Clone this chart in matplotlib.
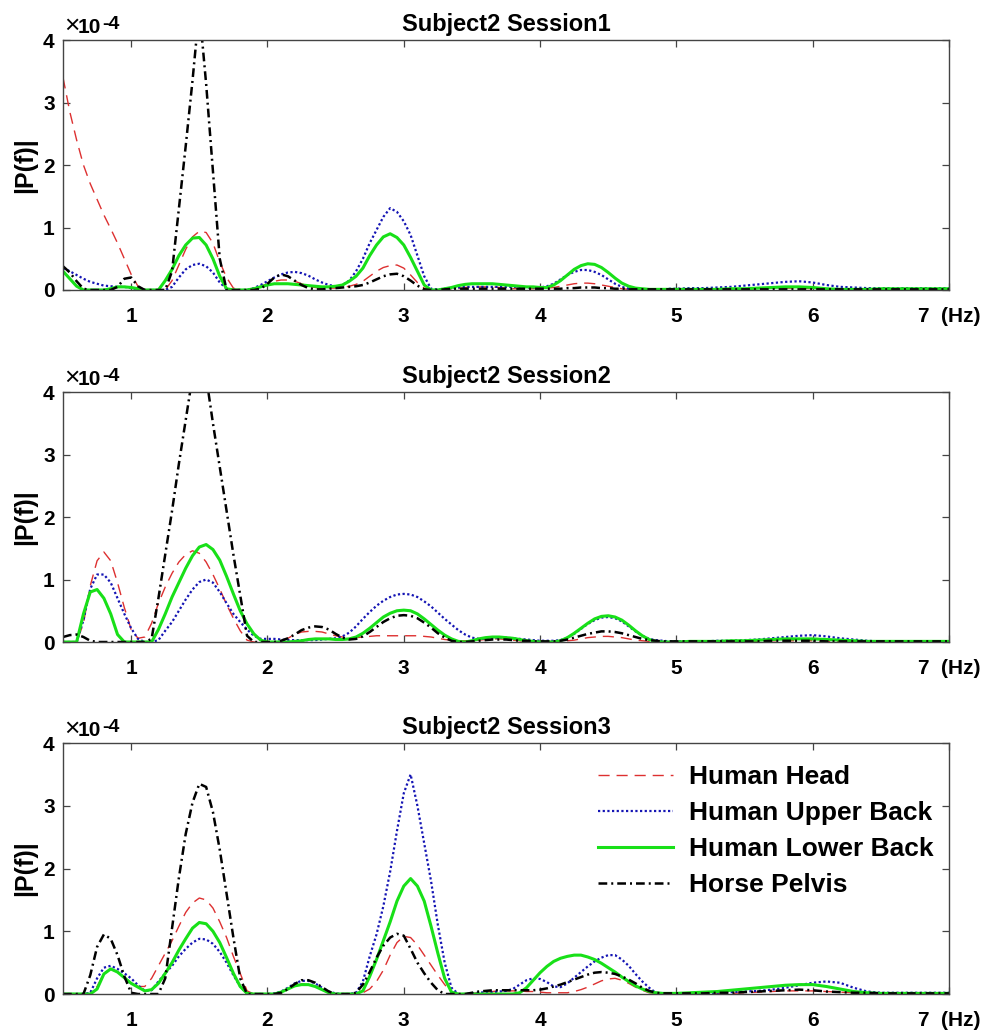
import numpy as np
import matplotlib
matplotlib.use("Agg")
import matplotlib.pyplot as plt

plt.rcParams['font.family'] = ['Liberation Sans', 'DejaVu Sans']
plt.rcParams['font.weight'] = 'bold'

# frequency grid (Hz): 0.05 Hz steps to 5 Hz, then 0.1 Hz steps to 7 Hz
freq = np.round(np.concatenate([np.arange(0.50, 5.001, 0.05), np.arange(5.1, 7.001, 0.1)]), 2)

titles = ["Subject2 Session1", "Subject2 Session2", "Subject2 Session3"]
series_names = ["Human Head", "Human Upper Back", "Human Lower Back", "Horse Pelvis"]
xtick_vals = [1, 2, 3, 4, 5, 6, 7]
xtick_labels = ["1", "2", "3", "4", "5", "6", "7  (Hz)"]
ytick_vals = [0, 1, 2, 3, 4]

# values in units of 1e-4
s1_head = [3.40, 2.85, 2.40, 2.00, 1.70, 1.45, 1.20, 0.98, 0.75, 0.50,
           0.25, 0.06, 0.00, 0.00, 0.00, 0.00, 0.15, 0.40, 0.65, 0.85,
           0.94, 0.92, 0.75, 0.45, 0.20, 0.03, 0.00, 0.00, 0.02, 0.06,
           0.10, 0.14, 0.16, 0.16, 0.14, 0.10, 0.06, 0.04, 0.03, 0.03,
           0.03, 0.04, 0.06, 0.09, 0.14, 0.22, 0.30, 0.36, 0.39, 0.40,
           0.35, 0.24, 0.12, 0.03, 0.00, 0.00, 0.00, 0.00, 0.02, 0.04,
           0.05, 0.05, 0.05, 0.05, 0.04, 0.03, 0.02, 0.02, 0.02, 0.02,
           0.02, 0.03, 0.04, 0.06, 0.08, 0.10, 0.11, 0.11, 0.10, 0.08,
           0.06, 0.04, 0.02, 0.01, 0.01, 0.00, 0.00, 0.00, 0.00, 0.00,
           0.00,
           0.00, 0.01, 0.01, 0.01, 0.02, 0.02, 0.03, 0.03, 0.03, 0.02,
           0.02, 0.01, 0.01, 0.01, 0.01, 0.01, 0.01, 0.01, 0.01, 0.01]
s1_upper = [0.35, 0.30, 0.24, 0.18, 0.13, 0.10, 0.07, 0.06, 0.05, 0.05,
            0.03, 0.01, 0.00, 0.00, 0.00, 0.00, 0.05, 0.20, 0.33, 0.40,
            0.42, 0.38, 0.28, 0.12, 0.02, 0.00, 0.00, 0.00, 0.03, 0.08,
            0.14, 0.20, 0.25, 0.28, 0.29, 0.27, 0.23, 0.17, 0.12, 0.08,
            0.06, 0.08, 0.15, 0.30, 0.50, 0.75, 0.96, 1.17, 1.31, 1.25,
            1.10, 0.88, 0.55, 0.22, 0.02, 0.01, 0.02, 0.03, 0.04, 0.05,
            0.05, 0.05, 0.05, 0.05, 0.05, 0.05, 0.05, 0.05, 0.04, 0.04,
            0.04, 0.06, 0.10, 0.17, 0.24, 0.29, 0.32, 0.32, 0.29, 0.24,
            0.17, 0.10, 0.05, 0.02, 0.01, 0.01, 0.01, 0.01, 0.01, 0.02,
            0.02,
            0.03, 0.03, 0.04, 0.05, 0.07, 0.09, 0.11, 0.13, 0.14, 0.12,
            0.08, 0.05, 0.04, 0.03, 0.03, 0.03, 0.03, 0.03, 0.03, 0.03]
s1_lower = [0.30, 0.18, 0.06, 0.00, 0.00, 0.00, 0.00, 0.02, 0.05, 0.05,
            0.04, 0.02, 0.00, 0.00, 0.00, 0.15, 0.33, 0.55, 0.72, 0.83,
            0.84, 0.72, 0.50, 0.22, 0.02, 0.00, 0.00, 0.00, 0.02, 0.05,
            0.08, 0.10, 0.10, 0.10, 0.09, 0.08, 0.07, 0.06, 0.05, 0.05,
            0.06, 0.08, 0.14, 0.22, 0.35, 0.55, 0.72, 0.85, 0.90, 0.84,
            0.72, 0.52, 0.30, 0.08, 0.00, 0.00, 0.02, 0.04, 0.07, 0.09,
            0.10, 0.10, 0.10, 0.10, 0.09, 0.08, 0.07, 0.06, 0.05, 0.05,
            0.04, 0.04, 0.08, 0.15, 0.24, 0.33, 0.39, 0.42, 0.41, 0.36,
            0.28, 0.19, 0.11, 0.06, 0.03, 0.02, 0.01, 0.01, 0.01, 0.01,
            0.01,
            0.01, 0.01, 0.01, 0.02, 0.02, 0.03, 0.04, 0.05, 0.05, 0.04,
            0.02, 0.01, 0.01, 0.01, 0.02, 0.02, 0.02, 0.02, 0.02, 0.02]
s1_pelvis = [0.38, 0.28, 0.14, 0.02, 0.00, 0.00, 0.00, 0.00, 0.05, 0.18,
             0.20, 0.06, 0.00, 0.00, 0.00, 0.00, 0.30, 1.30, 2.30, 3.35,
             4.50, 3.30, 1.90, 0.50, 0.00, 0.00, 0.00, 0.00, 0.00, 0.02,
             0.10, 0.20, 0.25, 0.22, 0.15, 0.08, 0.03, 0.01, 0.01, 0.02,
             0.03, 0.04, 0.05, 0.06, 0.08, 0.12, 0.17, 0.22, 0.25, 0.26,
             0.22, 0.15, 0.07, 0.01, 0.00, 0.00, 0.01, 0.02, 0.02, 0.02,
             0.02, 0.02, 0.02, 0.02, 0.02, 0.02, 0.02, 0.02, 0.02, 0.02,
             0.02, 0.02, 0.02, 0.02, 0.03, 0.03, 0.04, 0.04, 0.04, 0.03,
             0.03, 0.02, 0.02, 0.01, 0.01, 0.01, 0.01, 0.01, 0.01, 0.01,
             0.01,
             0.01, 0.01, 0.01, 0.01, 0.01, 0.01, 0.01, 0.01, 0.01, 0.01,
             0.01, 0.01, 0.01, 0.01, 0.01, 0.01, 0.01, 0.01, 0.01, 0.01]

s2_head = [0.00, 0.00, 0.00, 0.30, 0.90, 1.30, 1.44, 1.30, 0.95, 0.55,
           0.20, 0.06, 0.08, 0.30, 0.62, 0.88, 1.10, 1.28, 1.40, 1.46,
           1.42, 1.28, 1.08, 0.85, 0.60, 0.38, 0.18, 0.03, 0.00, 0.00,
           0.00, 0.00, 0.02, 0.06, 0.12, 0.16, 0.17, 0.17, 0.16, 0.13,
           0.10, 0.08, 0.07, 0.07, 0.08, 0.09, 0.10, 0.10, 0.10, 0.10,
           0.10, 0.10, 0.10, 0.09, 0.08, 0.06, 0.04, 0.03, 0.02, 0.02,
           0.02, 0.03, 0.04, 0.05, 0.05, 0.04, 0.03, 0.02, 0.01, 0.01,
           0.01, 0.01, 0.01, 0.01, 0.02, 0.03, 0.05, 0.07, 0.08, 0.09,
           0.09, 0.08, 0.07, 0.05, 0.03, 0.02, 0.01, 0.00, 0.00, 0.00,
           0.00,
           0.00, 0.00, 0.01, 0.01, 0.01, 0.01, 0.02, 0.02, 0.02, 0.02,
           0.01, 0.01, 0.01, 0.01, 0.01, 0.01, 0.01, 0.01, 0.01, 0.01]
s2_upper = [0.00, 0.00, 0.00, 0.35, 0.85, 1.08, 1.08, 0.95, 0.70, 0.45,
            0.22, 0.05, 0.00, 0.00, 0.03, 0.18, 0.32, 0.50, 0.68, 0.84,
            0.96, 1.00, 0.95, 0.80, 0.62, 0.45, 0.32, 0.20, 0.10, 0.05,
            0.05, 0.05, 0.04, 0.03, 0.03, 0.03, 0.03, 0.03, 0.04, 0.05,
            0.06, 0.09, 0.15, 0.25, 0.37, 0.48, 0.58, 0.66, 0.72, 0.76,
            0.77, 0.76, 0.72, 0.65, 0.57, 0.47, 0.37, 0.28, 0.19, 0.12,
            0.07, 0.05, 0.05, 0.06, 0.07, 0.07, 0.06, 0.05, 0.04, 0.03,
            0.02, 0.02, 0.02, 0.03, 0.07, 0.13, 0.21, 0.29, 0.35, 0.39,
            0.40, 0.38, 0.33, 0.25, 0.17, 0.10, 0.05, 0.03, 0.02, 0.01,
            0.01,
            0.01, 0.01, 0.02, 0.02, 0.03, 0.04, 0.06, 0.08, 0.10, 0.11,
            0.09, 0.06, 0.04, 0.02, 0.01, 0.01, 0.01, 0.01, 0.01, 0.01]
s2_lower = [0.00, 0.00, 0.00, 0.45, 0.80, 0.84, 0.70, 0.45, 0.12, 0.00,
            0.00, 0.00, 0.00, 0.00, 0.20, 0.45, 0.72, 0.95, 1.18, 1.38,
            1.52, 1.56, 1.48, 1.31, 1.05, 0.77, 0.50, 0.29, 0.13, 0.03,
            0.00, 0.00, 0.00, 0.00, 0.01, 0.02, 0.04, 0.05, 0.05, 0.05,
            0.04, 0.04, 0.05, 0.08, 0.14, 0.22, 0.31, 0.40, 0.46, 0.50,
            0.51, 0.50, 0.45, 0.37, 0.28, 0.19, 0.11, 0.05, 0.01, 0.00,
            0.02, 0.05, 0.07, 0.08, 0.08, 0.07, 0.06, 0.04, 0.02, 0.01,
            0.00, 0.00, 0.00, 0.02, 0.07, 0.14, 0.22, 0.30, 0.37, 0.41,
            0.42, 0.40, 0.35, 0.27, 0.18, 0.10, 0.04, 0.01, 0.00, 0.00,
            0.00,
            0.01, 0.01, 0.01, 0.02, 0.02, 0.03, 0.04, 0.05, 0.05, 0.05,
            0.04, 0.03, 0.02, 0.01, 0.01, 0.01, 0.01, 0.01, 0.01, 0.01]
s2_pelvis = [0.08, 0.11, 0.12, 0.08, 0.02, 0.00, 0.00, 0.00, 0.00, 0.00,
             0.00, 0.00, 0.00, 0.05, 0.70, 1.40, 2.10, 2.85, 3.55, 4.25,
             4.70, 4.25, 3.50, 2.80, 2.10, 1.40, 0.75, 0.10, 0.00, 0.00,
             0.00, 0.00, 0.02, 0.06, 0.12, 0.19, 0.23, 0.25, 0.24, 0.20,
             0.13, 0.07, 0.04, 0.05, 0.09, 0.16, 0.24, 0.32, 0.38, 0.42,
             0.43, 0.42, 0.38, 0.31, 0.23, 0.14, 0.07, 0.02, 0.00, 0.00,
             0.01, 0.02, 0.03, 0.04, 0.04, 0.04, 0.03, 0.02, 0.02, 0.01,
             0.01, 0.01, 0.01, 0.02, 0.04, 0.07, 0.10, 0.13, 0.15, 0.17,
             0.17, 0.16, 0.14, 0.11, 0.08, 0.05, 0.03, 0.02, 0.01, 0.01,
             0.01,
             0.01, 0.01, 0.01, 0.01, 0.01, 0.01, 0.02, 0.02, 0.02, 0.02,
             0.01, 0.01, 0.01, 0.01, 0.01, 0.01, 0.01, 0.01, 0.01, 0.01]

s3_head = [0.00, 0.00, 0.00, 0.00, 0.00, 0.12, 0.33, 0.40, 0.35, 0.26,
           0.18, 0.12, 0.12, 0.25, 0.45, 0.65, 0.85, 1.08, 1.30, 1.45,
           1.53, 1.50, 1.37, 1.15, 0.90, 0.60, 0.33, 0.05, 0.00, 0.00,
           0.00, 0.00, 0.03, 0.08, 0.13, 0.16, 0.16, 0.12, 0.07, 0.02,
           0.00, 0.00, 0.00, 0.00, 0.02, 0.08, 0.20, 0.38, 0.62, 0.82,
           0.92, 0.90, 0.78, 0.62, 0.46, 0.30, 0.15, 0.03, 0.00, 0.00,
           0.01, 0.02, 0.03, 0.04, 0.05, 0.05, 0.05, 0.05, 0.04, 0.04,
           0.03, 0.02, 0.02, 0.02, 0.02, 0.04, 0.07, 0.11, 0.16, 0.21,
           0.24, 0.25, 0.22, 0.17, 0.11, 0.06, 0.02, 0.01, 0.00, 0.00,
           0.00,
           0.00, 0.00, 0.01, 0.01, 0.02, 0.03, 0.04, 0.05, 0.05, 0.05,
           0.04, 0.03, 0.02, 0.01, 0.01, 0.01, 0.01, 0.01, 0.01, 0.01]
s3_upper = [0.00, 0.00, 0.00, 0.00, 0.02, 0.25, 0.42, 0.45, 0.40, 0.33,
            0.25, 0.14, 0.05, 0.06, 0.20, 0.33, 0.45, 0.60, 0.72, 0.82,
            0.88, 0.87, 0.80, 0.67, 0.50, 0.30, 0.12, 0.01, 0.00, 0.00,
            0.00, 0.01, 0.04, 0.10, 0.17, 0.21, 0.21, 0.17, 0.10, 0.04,
            0.01, 0.00, 0.00, 0.02, 0.20, 0.60, 0.95, 1.40, 1.95, 2.60,
            3.20, 3.50, 3.00, 2.40, 1.80, 1.10, 0.50, 0.10, 0.00, 0.00,
            0.01, 0.02, 0.03, 0.03, 0.04, 0.05, 0.08, 0.15, 0.22, 0.25,
            0.24, 0.19, 0.12, 0.11, 0.17, 0.26, 0.35, 0.44, 0.52, 0.58,
            0.62, 0.62, 0.55, 0.45, 0.32, 0.20, 0.10, 0.02, 0.01, 0.01,
            0.01,
            0.01, 0.01, 0.02, 0.03, 0.04, 0.05, 0.07, 0.10, 0.14, 0.18,
            0.20, 0.18, 0.10, 0.04, 0.02, 0.02, 0.02, 0.02, 0.02, 0.02]
s3_lower = [0.00, 0.00, 0.00, 0.00, 0.00, 0.08, 0.32, 0.40, 0.35, 0.26,
            0.17, 0.11, 0.05, 0.07, 0.17, 0.33, 0.50, 0.70, 0.88, 1.05,
            1.14, 1.12, 1.00, 0.82, 0.58, 0.33, 0.12, 0.01, 0.00, 0.00,
            0.00, 0.00, 0.03, 0.08, 0.13, 0.15, 0.15, 0.12, 0.07, 0.02,
            0.00, 0.00, 0.00, 0.00, 0.05, 0.28, 0.55, 0.85, 1.15, 1.48,
            1.72, 1.84, 1.72, 1.48, 1.08, 0.65, 0.25, 0.03, 0.00, 0.00,
            0.00, 0.00, 0.00, 0.00, 0.00, 0.00, 0.00, 0.02, 0.10, 0.22,
            0.34, 0.44, 0.52, 0.57, 0.60, 0.62, 0.62, 0.59, 0.55, 0.49,
            0.42, 0.35, 0.27, 0.20, 0.13, 0.08, 0.04, 0.02, 0.01, 0.01,
            0.01,
            0.02, 0.03, 0.04, 0.06, 0.08, 0.10, 0.12, 0.14, 0.15, 0.15,
            0.12, 0.08, 0.04, 0.02, 0.01, 0.01, 0.01, 0.01, 0.01, 0.01]
s3_pelvis = [0.00, 0.00, 0.00, 0.00, 0.30, 0.75, 0.95, 0.88, 0.62, 0.28,
             0.02, 0.00, 0.00, 0.00, 0.00, 0.25, 1.05, 1.85, 2.55, 3.05,
             3.35, 3.30, 2.90, 2.30, 1.60, 0.90, 0.25, 0.00, 0.00, 0.00,
             0.00, 0.00, 0.02, 0.08, 0.16, 0.22, 0.22, 0.18, 0.11, 0.04,
             0.00, 0.00, 0.00, 0.02, 0.15, 0.35, 0.58, 0.77, 0.90, 0.96,
             0.93, 0.72, 0.50, 0.33, 0.18, 0.06, 0.00, 0.00, 0.00, 0.00,
             0.02, 0.04, 0.05, 0.06, 0.06, 0.06, 0.06, 0.06, 0.06, 0.06,
             0.07, 0.09, 0.12, 0.15, 0.19, 0.23, 0.27, 0.31, 0.34, 0.35,
             0.34, 0.32, 0.28, 0.23, 0.17, 0.10, 0.05, 0.02, 0.01, 0.01,
             0.01,
             0.01, 0.01, 0.02, 0.02, 0.03, 0.04, 0.05, 0.06, 0.07, 0.06,
             0.04, 0.03, 0.02, 0.02, 0.01, 0.01, 0.01, 0.01, 0.01, 0.01]

sessions = [
    [s1_head, s1_upper, s1_lower, s1_pelvis],
    [s2_head, s2_upper, s2_lower, s2_pelvis],
    [s3_head, s3_upper, s3_lower, s3_pelvis],
]

styles = [
    dict(color='#dd3030', lw=1.0, dashes=(8, 5)),
    dict(color='#1414b4', lw=1.6, dashes=(1, 1.1)),
    dict(color='#18e018', lw=2.2, linestyle='-'),
    dict(color='black', lw=1.8, dashes=(3.5, 1.6, 0.8, 1.6)),
]

fig = plt.figure(figsize=(9.86, 10.32), dpi=100)
positions = [
    [0.0639, 0.7190, 0.8986, 0.2422],
    [0.0639, 0.3779, 0.8986, 0.2422],
    [0.0639, 0.0368, 0.8986, 0.2432],
]
spine_col = '#444444'

for k, (pos, title, data) in enumerate(zip(positions, titles, sessions)):
    ax = fig.add_axes(pos)
    lines = []
    for name, vals, st in zip(series_names, data, styles):
        ln, = ax.plot(freq, np.array(vals), label=name, **st)
        lines.append(ln)
    ax.set_xlim(0.5, 7.0)
    ax.set_ylim(0, 4)
    ax.set_xticks(xtick_vals)
    ax.set_xticklabels(xtick_labels)
    ax.set_yticks(ytick_vals)
    ax.set_yticklabels([str(v) for v in ytick_vals])
    ax.tick_params(direction='in', length=5, width=0.9, top=True, right=True,
                   labelsize=15, color=spine_col)
    ax.tick_params(axis='y', pad=6)
    ax.tick_params(axis='x', pad=12)
    for lab in ax.get_xticklabels() + ax.get_yticklabels():
        lab.set_fontweight('bold')
    for sp in ax.spines.values():
        sp.set_color(spine_col)
        sp.set_linewidth(1.0)
    ax.set_title(title, fontsize=17, fontweight='bold', pad=6.5)
    ax.set_ylabel('|P(f)|', fontsize=18, fontweight='bold', labelpad=4)
    ax.annotate('×', xy=(0, 1), xycoords='axes fraction', xytext=(1, 7),
                textcoords='offset pixels', ha='left', va='baseline',
                fontsize=19, fontweight='normal')
    ax.annotate('10', xy=(0, 1), xycoords='axes fraction', xytext=(15, 7),
                textcoords='offset pixels', ha='left', va='baseline',
                fontsize=15, fontweight='bold')
    ax.annotate('-4', xy=(0, 1), xycoords='axes fraction', xytext=(39, 11),
                textcoords='offset pixels', ha='left', va='baseline',
                fontsize=14, fontweight='bold')
    if k == 2:
        ax.legend(handles=lines, loc='upper left', bbox_to_anchor=(0.604, 0.913),
                  frameon=False, handlelength=2.85,
                  handletextpad=0.6, labelspacing=0.46, borderpad=0,
                  borderaxespad=0, prop={'weight': 'bold', 'size': 19})

fig.savefig('out.png', dpi=100)
